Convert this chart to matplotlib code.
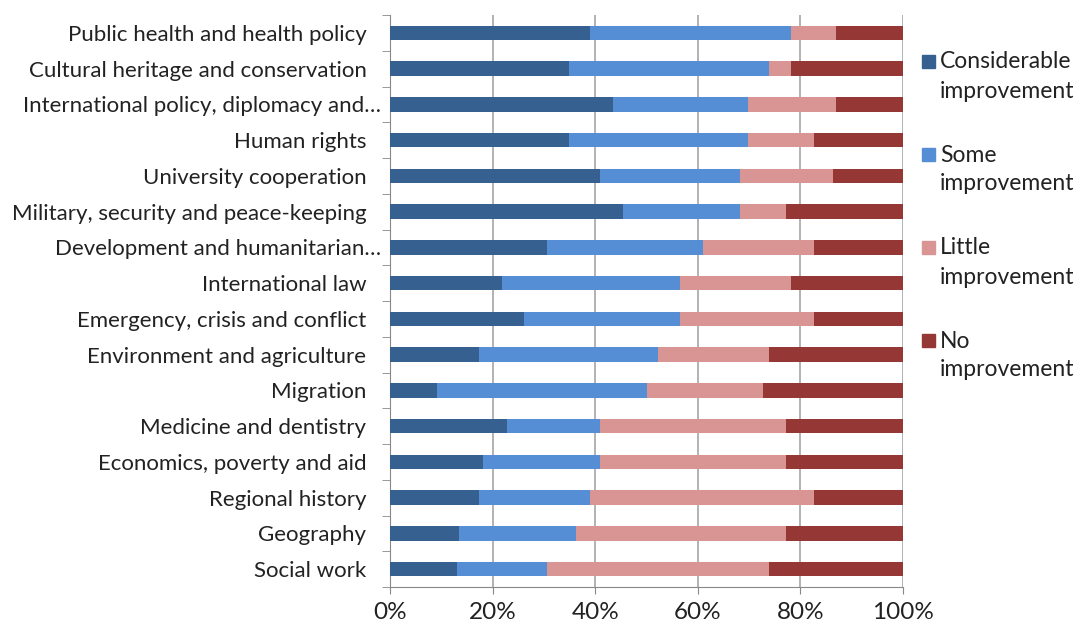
import matplotlib.pyplot as plt
from matplotlib.patches import Rectangle
from matplotlib.transforms import ScaledTranslation
import numpy as np

categories = [
    'Public health and health policy',
    'Cultural heritage and conservation',
    'International policy, diplomacy and\u2026',
    'Human rights',
    'University cooperation',
    'Military, security and peace-keeping',
    'Development and humanitarian\u2026',
    'International law',
    'Emergency, crisis and conflict',
    'Environment and agriculture',
    'Migration',
    'Medicine and dentistry',
    'Economics, poverty and aid',
    'Regional history',
    'Geography',
    'Social work',
]

# shares in percent
considerable = [39.0, 34.8, 43.5, 34.8, 41.0, 45.5, 30.6, 21.8, 26.1, 17.3, 9.1, 22.9, 18.1, 17.3, 13.5, 13.0]
some = [39.2, 39.1, 26.3, 35.0, 27.2, 22.7, 30.4, 34.7, 30.4, 34.9, 40.9, 18.1, 22.9, 21.7, 22.8, 17.6]
little = [8.7, 4.3, 17.1, 12.8, 18.2, 9.0, 21.6, 21.7, 26.1, 21.7, 22.7, 36.2, 36.2, 43.6, 40.9, 43.3]
none_ = [13.1, 21.8, 13.1, 17.4, 13.6, 22.8, 17.4, 21.8, 17.4, 26.1, 27.3, 22.8, 22.8, 17.4, 22.8, 26.1]

series = [
    ('Considerable\nimprovement', considerable, '#36608f'),
    ('Some\nimprovement', some, '#558ed5'),
    ('Little\nimprovement', little, '#d99594'),
    ('No\nimprovement', none_, '#953735'),
]

plt.rcParams['font.family'] = ['Lato', 'DejaVu Sans']
W, H = 1077, 633

fig = plt.figure(figsize=(W / 100, H / 100), dpi=100)
ax = fig.add_axes([390 / W, 1 - 587 / H, 513 / W, 572 / H])

y = np.arange(len(categories))
left = np.zeros(len(categories))
for label, vals, color in series:
    vals = np.array(vals)
    ax.barh(y, vals, left=left, height=0.4, color=color, label=label, zorder=3)
    left += vals

ax.set_xlim(0, 100)
ax.set_ylim(len(categories) - 0.5, -0.5)
ax.set_xticks(np.arange(0, 101, 20))
ax.set_xticklabels([f'{v}%' for v in range(0, 101, 20)], fontsize=17.5, color='#222222')
ax.set_yticks(y)
ax.set_yticklabels(categories, fontsize=16, color='#222222')
ax.tick_params(axis='y', length=0, pad=17)
ax.set_yticks(np.arange(-0.5, len(categories)), minor=True)
ax.tick_params(axis='y', which='minor', length=6, color='#888888')
ax.tick_params(axis='x', length=5, color='#888888', pad=6)
ax.grid(axis='x', color='#a6a6a6', linewidth=1.2, zorder=0)

# truncated labels sit a bit closer to the axis in the original
for lbl in ax.get_yticklabels():
    if lbl.get_text().endswith('\u2026'):
        lbl.set_transform(lbl.get_transform() + ScaledTranslation(0.15, 0, fig.dpi_scale_trans))

for s in ['top', 'right']:
    ax.spines[s].set_visible(False)
for s in ['left', 'bottom']:
    ax.spines[s].set_color('#888888')

# legend drawn by hand so the swatch sits beside the first line, like Excel
for i, (label, vals, color) in enumerate(series):
    ytop = 62 + i * 93
    fig.patches.append(Rectangle((922 / W, 1 - (ytop + 6) / H), 13 / W, 13 / H,
                                 transform=fig.transFigure, color=color))
    first, second = label.split('\n')
    fig.text(940 / W, 1 - ytop / H, first, fontsize=16.5, color='#222222', va='center')
    fig.text(940 / W, 1 - (ytop + 29) / H, second, fontsize=16.5, color='#222222', va='center')

fig.savefig('out.png', dpi=100)
